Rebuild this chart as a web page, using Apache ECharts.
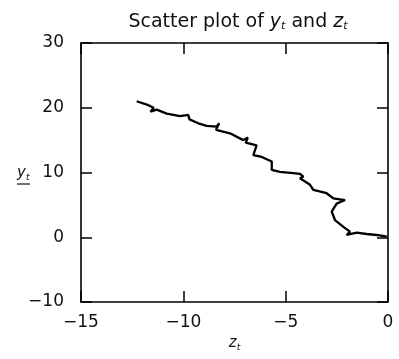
<!DOCTYPE html>
<html>
<head>
<meta charset="utf-8">
<script src="https://cdn.jsdelivr.net/npm/echarts@6/dist/echarts.min.js"></script>
<style>html,body{margin:0;padding:0;background:#fff}#c{width:399px;height:359px}</style>
</head>
<body>
<div id="c"></div>
<script>
var zValues = [-12.28, -11.71, -11.45, -11.6, -11.3, -10.81, -10.16, -9.76, -9.7, -9.27, -8.86, -8.37, -8.25, -8.4, -7.72, -7.07, -6.85, -6.95, -6.42, -6.58, -6.17, -5.68, -5.68, -5.28, -4.63, -4.3, -4.14, -4.3, -3.81, -3.65, -3.0, -2.67, -2.1, -2.51, -2.75, -2.59, -2.18, -1.86, -2.02, -1.53, -1.04, -0.55, -0.06];
var yValues = [21.0, 20.4, 20.0, 19.4, 19.7, 19.1, 18.7, 18.9, 18.2, 17.6, 17.2, 17.1, 17.6, 16.6, 16.05, 15.0, 15.4, 14.6, 14.2, 12.7, 12.4, 11.7, 10.4, 10.1, 9.9, 9.8, 9.35, 9.1, 8.1, 7.3, 6.8, 6.0, 5.75, 5.2, 3.95, 2.66, 1.6, 0.86, 0.35, 0.7, 0.5, 0.35, 0.08];
var xTicks = [-15, -10, -5, 0];
var yTicks = [-10, 0, 10, 20, 30];

var pts = zValues.map(function (z, i) { return [z, yValues[i]]; });
var font = '"DejaVu Sans", sans-serif';
function fmt(v) { return String(v).replace('-', '\u2212'); }

var chart = echarts.init(document.getElementById('c'), null, { renderer: 'canvas' });
var axisCommon = {
  axisLine: { show: true, onZero: false, lineStyle: { color: '#000', width: 1.6 } },
  axisTick: { show: true, inside: true, length: 11, lineStyle: { color: '#000', width: 1.5 } },
  splitLine: { show: false }
};
chart.setOption({
  animation: false,
  backgroundColor: '#fff',
  title: {
    text: '{n|Scatter plot of }{i|y}{s|t}{n| and }{i|z}{s|t}',
    left: 233, top: 7, textAlign: 'center',
    textStyle: {
      rich: {
        n: { fontFamily: font, fontSize: 19, fontWeight: 'normal', color: '#111' },
        i: { fontFamily: font, fontSize: 19, fontWeight: 'normal', fontStyle: 'italic', color: '#111' },
        s: { fontFamily: font, fontSize: 11, fontWeight: 'normal', fontStyle: 'italic', color: '#111', padding: [9, 0, 0, 0] }
      }
    }
  },
  grid: { left: 81, right: 11, top: 43, bottom: 57 },
  xAxis: [
    Object.assign({
      type: 'value', min: xTicks[0], max: xTicks[xTicks.length - 1], interval: 5, position: 'bottom',
      axisLabel: { fontFamily: font, fontSize: 17, color: '#111', margin: 12, formatter: fmt },
      name: '{i|z}{s|t}', nameLocation: 'middle', nameGap: 31,
      nameTextStyle: { rich: {
        i: { fontFamily: font, fontSize: 15, fontStyle: 'italic', color: '#111' },
        s: { fontFamily: font, fontSize: 9, fontStyle: 'italic', color: '#111', padding: [8, 0, 0, 0] }
      } }
    }, axisCommon),
    Object.assign({
      type: 'value', min: xTicks[0], max: xTicks[xTicks.length - 1], interval: 5, position: 'top',
      axisLabel: { show: false }
    }, axisCommon)
  ],
  yAxis: [
    Object.assign({
      type: 'value', min: yTicks[0], max: yTicks[yTicks.length - 1], interval: 10, position: 'left',
      axisLabel: { fontFamily: font, fontSize: 17, color: '#111', margin: 17, formatter: fmt }
    }, axisCommon),
    Object.assign({
      type: 'value', min: yTicks[0], max: yTicks[yTicks.length - 1], interval: 10, position: 'right',
      axisLabel: { show: false }
    }, axisCommon)
  ],
  graphic: [
    {
      type: 'text', left: 17, top: 166,
      style: { text: '{i|y}{s|t}', rich: {
        i: { fontFamily: font, fontSize: 15, fontStyle: 'italic', fill: '#111' },
        s: { fontFamily: font, fontSize: 9, fontStyle: 'italic', fill: '#111', padding: [8, 0, 0, 0] }
      } }
    },
    { type: 'line', shape: { x1: 17, y1: 184, x2: 30, y2: 184 }, style: { stroke: '#111', lineWidth: 1.2 } }
  ],
  series: [{
    type: 'line', data: pts, showSymbol: false, smooth: false,
    lineStyle: { color: '#000', width: 2.3 }
  }]
});
</script>
</body>
</html>
